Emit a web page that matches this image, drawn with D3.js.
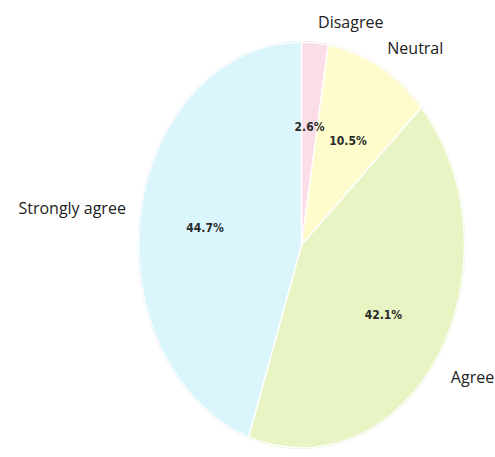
<!DOCTYPE html>
<html><head><meta charset="utf-8">
<script src="https://cdn.jsdelivr.net/npm/d3@7"></script>
<style>body{margin:0;background:#fff;}svg{display:block;}</style>
</head><body>
<svg id="chart" width="495" height="457"></svg>
<script>
const categories = ["Disagree", "Neutral", "Agree", "Strongly agree"];
const counts = [1, 4, 16, 17];
const pctLabels = ["2.6%", "10.5%", "42.1%", "44.7%"];
const colors = ["#fbdde8", "#fefbcc", "#e8f4c4", "#daf6fc"];
const edgeColors = ["#ecc6d4", "#efe8b8", "#d3e2a8", "#c4dbe6"];

const W = 495, H = 457;
const cx = 301.5, cy = 245, rx = 163, ry = 203;
const R = 100;
const svg = d3.select("#chart");
const g = svg.append("g").attr("transform", `translate(${cx},${cy})`);
const pieG = g.append("g").attr("transform", `scale(${rx/R},${ry/R})`);

const pie = d3.pie().sort(null).value(d => d).startAngle(0).endAngle(2*Math.PI);
const arcs = pie(counts);
const arc = d3.arc().innerRadius(0).outerRadius(R);

pieG.selectAll("path.outer").data(arcs).join("path")
  .attr("d", d3.arc().innerRadius(0).outerRadius(R + 0.5))
  .attr("fill", (d, i) => edgeColors[i]);
pieG.selectAll("path.slice").data(arcs).join("path")
  .attr("d", arc)
  .attr("fill", (d, i) => colors[i])
  .attr("stroke", "#ffffff")
  .attr("stroke-width", 1.4)
  .attr("stroke-linejoin", "round")
  .attr("vector-effect", "non-scaling-stroke");

function pos(a, fx, fy) {
  return [Math.sin(a) * rx * fx, -Math.cos(a) * ry * fy];
}

arcs.forEach((d, i) => {
  const mid = (d.startAngle + d.endAngle) / 2;
  const right = Math.sin(mid) > 0;
  const lower = Math.cos(mid) < 0;
  const [lx, ly] = pos(mid, 1.08, lower ? 1.12 : 1.1);
  g.append("text")
    .attr("x", lx + (right ? 2 : -2))
    .attr("y", ly + (lower ? 8 : 0))
    .attr("dy", "0.35em")
    .attr("text-anchor", right ? "start" : "end")
    .attr("font-family", "Open Sans, sans-serif")
    .attr("font-size", 16)
    .attr("fill", "#222")
    .text(categories[i]);
  const [px, py] = pos(mid, 0.6, 0.6);
  g.append("text")
    .attr("x", px)
    .attr("y", py + 3)
    .attr("dy", "0.35em")
    .attr("text-anchor", "middle")
    .attr("font-family", "DejaVu Sans Condensed, DejaVu Sans, sans-serif")
    .attr("font-weight", "bold")
    .attr("font-size", 12)
    .attr("fill", "#2a2a2a")
    .text(pctLabels[i]);
});
</script>
</body></html>
